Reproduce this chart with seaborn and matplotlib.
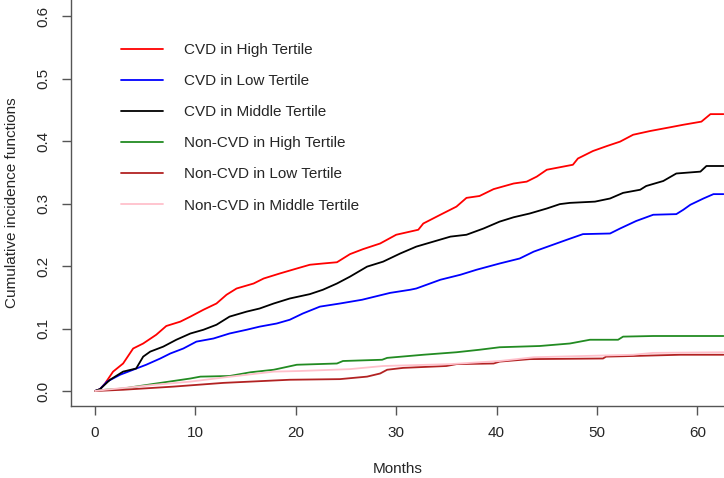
import pandas as pd
import matplotlib
matplotlib.use('Agg')
import matplotlib.pyplot as plt
import seaborn as sns

# curvas de incidencia acumulada, meses vs valor
red_m = [0, 0.5, 1.0, 1.8, 2.8, 3.8, 4.8, 6.1, 7.1, 8.5, 9.5, 10.8, 12.1, 13.1, 14.1, 15.8, 16.8, 18.4,
         20.1, 21.4, 22.7, 24.1, 25.4, 26.7, 28.4, 30.0, 32.2, 32.7, 34.4, 36.0, 37.0, 38.3, 39.7, 41.7,
         43.0, 44.0, 45.0, 46.3, 47.6, 48.1, 49.6, 51.0, 52.3, 53.6, 55.3, 57.3, 58.6, 60.4, 61.3, 62.6]
red_v = [0, 0.003, 0.012, 0.031, 0.044, 0.068, 0.076, 0.090, 0.104, 0.111, 0.119, 0.130, 0.140, 0.154,
         0.164, 0.172, 0.180, 0.188, 0.196, 0.202, 0.204, 0.206, 0.219, 0.227, 0.236, 0.250, 0.258, 0.268,
         0.282, 0.295, 0.309, 0.312, 0.323, 0.332, 0.335, 0.343, 0.354, 0.358, 0.362, 0.372, 0.384, 0.392,
         0.399, 0.410, 0.416, 0.422, 0.426, 0.431, 0.443, 0.443]

blue_m = [0, 0.5, 1.2, 2.5, 3.8, 5.1, 6.5, 7.5, 8.8, 10.1, 11.8, 13.4, 15.1, 16.4, 18.1, 19.4, 20.7, 22.4,
          24.4, 26.6, 29.4, 31.4, 32.0, 34.4, 36.4, 38.0, 40.3, 42.3, 43.7, 47.0, 48.6, 51.3, 52.3, 53.9,
          55.6, 57.9, 58.6, 59.3, 60.6, 61.6, 62.6]
blue_v = [0, 0.003, 0.015, 0.026, 0.034, 0.042, 0.052, 0.060, 0.068, 0.079, 0.084, 0.092, 0.098, 0.103,
          0.108, 0.114, 0.124, 0.135, 0.140, 0.146, 0.157, 0.162, 0.164, 0.178, 0.186, 0.194, 0.204, 0.212,
          0.223, 0.242, 0.251, 0.252, 0.260, 0.272, 0.282, 0.283, 0.290, 0.298, 0.308, 0.315, 0.315]

black_m = [0, 0.5, 1.5, 2.8, 4.1, 4.8, 5.5, 6.8, 8.1, 9.5, 10.8, 12.1, 13.4, 15.1, 16.4, 17.8, 19.4, 21.4,
           22.7, 24.1, 25.4, 27.1, 28.7, 30.4, 32.0, 33.7, 35.4, 37.0, 38.7, 40.3, 41.7, 43.3, 45.0, 46.3,
           47.3, 49.8, 51.3, 52.6, 54.3, 54.9, 56.6, 57.9, 60.3, 60.9, 62.6]
black_v = [0, 0.003, 0.018, 0.031, 0.036, 0.055, 0.063, 0.071, 0.082, 0.092, 0.098, 0.106, 0.119, 0.127,
           0.132, 0.140, 0.148, 0.155, 0.162, 0.172, 0.183, 0.199, 0.207, 0.220, 0.231, 0.239, 0.247, 0.250,
           0.260, 0.271, 0.278, 0.284, 0.292, 0.299, 0.301, 0.303, 0.308, 0.317, 0.322, 0.328, 0.336, 0.348,
           0.351, 0.360, 0.360]

green_m = [0, 1.0, 2.8, 6.1, 9.5, 10.5, 13.4, 15.5, 17.8, 20.1, 24.1, 24.7, 28.6, 29.1, 32.7, 36.0, 38.3,
           40.3, 44.3, 47.3, 49.3, 52.1, 52.6, 55.6, 62.6]
green_v = [0, 0.002, 0.004, 0.012, 0.020, 0.023, 0.024, 0.030, 0.034, 0.042, 0.044, 0.048, 0.050, 0.053,
           0.058, 0.062, 0.066, 0.070, 0.072, 0.076, 0.082, 0.082, 0.087, 0.088, 0.088]

brown_m = [0, 2.8, 7.8, 12.8, 19.4, 24.4, 27.1, 28.4, 29.1, 30.7, 35.0, 36.0, 39.7, 40.3, 43.3, 50.6, 50.9,
           53.6, 58.3, 62.6]
brown_v = [0, 0.002, 0.007, 0.013, 0.018, 0.019, 0.023, 0.028, 0.034, 0.037, 0.040, 0.043, 0.044, 0.047,
           0.051, 0.052, 0.055, 0.056, 0.058, 0.058]

pink_m = [0, 1.0, 3.0, 6.0, 9.5, 13.0, 17.8, 20.4, 25.4, 28.7, 35.4, 40.3, 43.7, 53.6, 55.6, 62.6]
pink_v = [0, 0.002, 0.005, 0.010, 0.015, 0.022, 0.031, 0.032, 0.035, 0.040, 0.043, 0.048, 0.054, 0.058,
          0.061, 0.062]

grupos = ['CVD in High Tertile', 'CVD in Low Tertile', 'CVD in Middle Tertile',
          'Non-CVD in High Tertile', 'Non-CVD in Low Tertile', 'Non-CVD in Middle Tertile']
colores = ['#FF0000', '#0000FF', '#000000', '#228B22', '#B22222', '#FFC0CB']
series = [(red_m, red_v), (blue_m, blue_v), (black_m, black_v),
          (green_m, green_v), (brown_m, brown_v), (pink_m, pink_v)]

sns.set_style('ticks')
plt.rcParams['font.family'] = ['Liberation Sans', 'DejaVu Sans']

fig = plt.figure(figsize=(7.24, 4.78), dpi=100)
ax = fig.add_axes([71 / 724, 72 / 478, 653 / 724, 406 / 478])

for nombre, color, (m, v) in zip(grupos, colores, series):
    df = pd.DataFrame({'Months': m, 'cif': v})
    sns.lineplot(data=df, x='Months', y='cif', ax=ax, color=color, label=nombre,
                 estimator=None, sort=False, linewidth=1.3)

ax.set_xlim(-2.39, 62.65)
ax.set_ylim(-0.024, 0.6256)
ax.set_xticks([0, 10, 20, 30, 40, 50, 60])
ax.set_yticks([0.0, 0.1, 0.2, 0.3, 0.4, 0.5, 0.6])
ax.set_yticklabels(['0.0', '0.1', '0.2', '0.3', '0.4', '0.5', '0.6'], rotation=90, va='center')
ax.tick_params(axis='both', length=6.5, width=1, color='#555555', labelsize=11, pad=8)
for s in ['left', 'bottom']:
    ax.spines[s].set_color('#555555')
    ax.spines[s].set_linewidth(1)
sns.despine(ax=ax)

ax.set_xlabel('Months', fontsize=11, labelpad=16)
ax.set_ylabel('Cumulative incidence functions', fontsize=11, labelpad=13)

ax.legend(loc='upper left', bbox_to_anchor=(121 / 724, 1 - 43 / 478), bbox_transform=fig.transFigure,
          frameon=False, fontsize=11, handlelength=2.75, handletextpad=1.37, labelspacing=1.12,
          borderpad=0, borderaxespad=0)

fig.savefig('out.png', dpi=100)
